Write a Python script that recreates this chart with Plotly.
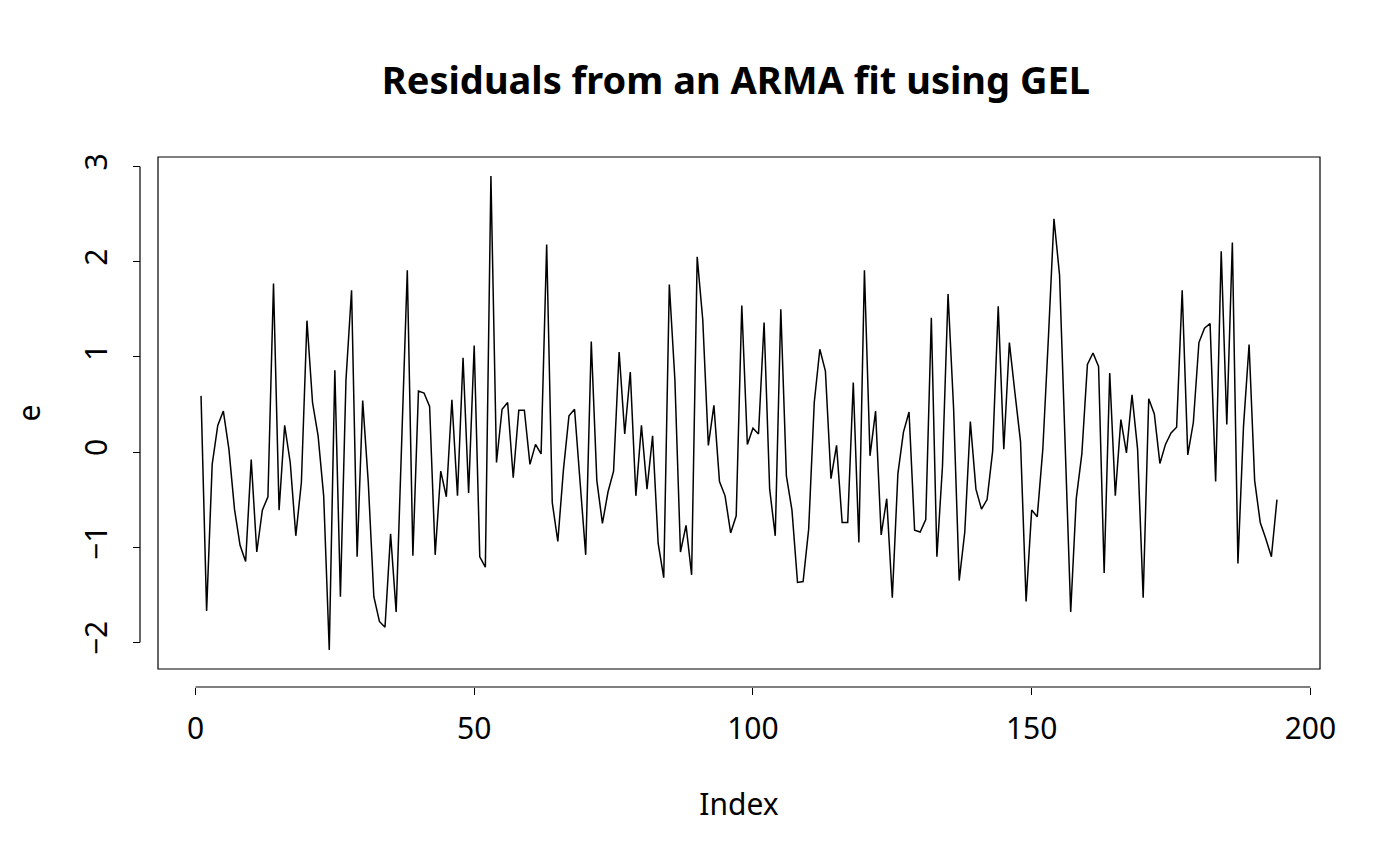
import plotly.graph_objs as go

# residuals, index 1..194
resid = [
    0.59, -1.67, -0.13, 0.28, 0.43, 0.03, -0.60, -0.98, -1.15, -0.08,
    -1.05, -0.61, -0.47, 1.77, -0.61, 0.28, -0.11, -0.88, -0.32, 1.38,
    0.52, 0.17, -0.46, -2.08, 0.86, -1.52, 0.76, 1.70, -1.10, 0.54,
    -0.32, -1.52, -1.78, -1.84, -0.86, -1.68, 0.12, 1.91, -1.09, 0.64,
    0.62, 0.48, -1.08, -0.20, -0.47, 0.55, -0.46, 0.99, -0.43, 1.12,
    -1.10, -1.21, 2.90, -0.11, 0.45, 0.52, -0.27, 0.44, 0.44, -0.13,
    0.08, -0.02, 2.18, -0.53, -0.94, -0.19, 0.38, 0.45, -0.32, -1.08,
    1.16, -0.30, -0.75, -0.42, -0.20, 1.05, 0.19, 0.84, -0.46, 0.28,
    -0.39, 0.17, -0.96, -1.32, 1.76, 0.76, -1.05, -0.77, -1.29, 2.05,
    1.39, 0.07, 0.49, -0.31, -0.46, -0.85, -0.67, 1.54, 0.08, 0.25,
    0.19, 1.36, -0.39, -0.88, 1.50, -0.25, -0.61, -1.37, -1.36, -0.81,
    0.52, 1.08, 0.85, -0.28, 0.07, -0.74, -0.74, 0.73, -0.95, 1.91,
    -0.04, 0.43, -0.87, -0.49, -1.53, -0.23, 0.21, 0.42, -0.82, -0.84,
    -0.71, 1.41, -1.10, -0.15, 1.66, 0.45, -1.35, -0.84, 0.32, -0.39,
    -0.60, -0.50, 0.01, 1.53, 0.03, 1.15, 0.62, 0.11, -1.57, -0.61,
    -0.68, 0.03, 1.20, 2.45, 1.86, 0.10, -1.68, -0.49, -0.02, 0.92,
    1.04, 0.90, -1.27, 0.83, -0.46, 0.34, -0.01, 0.60, 0.03, -1.53,
    0.56, 0.40, -0.12, 0.08, 0.20, 0.26, 1.70, -0.03, 0.31, 1.15,
    1.30, 1.35, -0.31, 2.11, 0.29, 2.20, -1.17, 0.27, 1.13, -0.30,
    -0.74, -0.91, -1.10, -0.50,
]
index = list(range(1, len(resid) + 1))

x_ticks = [0, 50, 100, 150, 200]
y_ticks = [-2, -1, 0, 1, 2, 3]

width = 1400
height = 866


def r_range(vals):
    """R style axis range: data range stretched by 4% each side"""
    lo, hi = min(vals), max(vals)
    pad = 0.04 * (hi - lo)
    return [lo - pad, hi + pad]


fig = go.Figure()
fig.add_trace(go.Scatter(x=index, y=resid, mode='lines',
                         line=dict(color='black', width=1.5),
                         showlegend=False))

axis_font = dict(family='Noto Sans', size=30, color='black')
fig.update_layout(
    autosize=False,
    width=width,
    height=height,
    margin=dict(l=132, r=88, t=149, b=187),
    paper_bgcolor='white',
    plot_bgcolor='white',
    font=axis_font,
    title={'text': '<b>Residuals from an ARMA fit using GEL</b>',
           'x': 0.505, 'xanchor': 'center', 'xref': 'paper',
           'y': 1 - 73 / height, 'yanchor': 'middle', 'yref': 'container',
           'font': dict(family='Noto Sans', size=38, color='black')},
    xaxis=dict(range=r_range(index), domain=[18 / 1180, 1],
               anchor='free', position=0, automargin=False,
               tickvals=x_ticks, ticks='outside', ticklen=7,
               tickcolor='black', showline=False, showgrid=False,
               zeroline=False, tickfont=axis_font, ticklabelstandoff=8,
               title=dict(text='Index', font=axis_font, standoff=46)),
    yaxis=dict(range=r_range(resid), domain=[18 / 530, 1],
               anchor='free', position=0, automargin=False,
               tickvals=y_ticks, ticks='outside', ticklen=7,
               tickcolor='black', showline=False, showgrid=False,
               zeroline=False, tickangle=-90, tickfont=axis_font,
               ticklabelstandoff=14,
               title=dict(text='e', font=axis_font, standoff=38)),
)

# box round the plotting region
fig.add_shape(type='rect', xref='x domain', yref='y domain',
              x0=0, x1=1, y0=0, y1=1, line=dict(color='black', width=1.2))
# R draws the axis line only between the outer ticks
fig.add_shape(type='line', xref='x', yref='paper',
              x0=x_ticks[0], x1=x_ticks[-1], y0=0, y1=0,
              line=dict(color='black', width=1.2))
fig.add_shape(type='line', xref='paper', yref='y',
              x0=0, x1=0, y0=y_ticks[0], y1=y_ticks[-1],
              line=dict(color='black', width=1.2))

fig.write_html("out.html")
